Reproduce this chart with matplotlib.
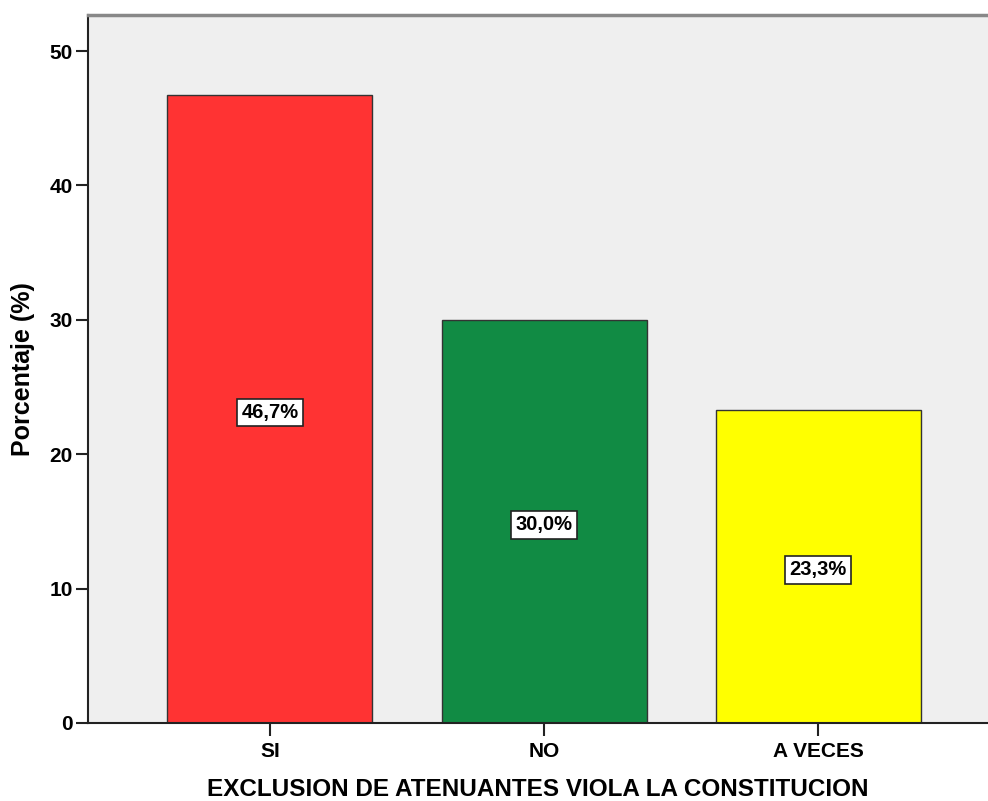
import matplotlib
matplotlib.use("Agg")
import matplotlib.pyplot as plt

categories = ["SI", "NO", "A VECES"]
values = [46.7, 30.0, 23.3]
labels = ["46,7%", "30,0%", "23,3%"]
colors = ["#FF3333", "#118B44", "#FFFF00"]
yticks = [0, 10, 20, 30, 40, 50]

plt.rcParams['font.family'] = ['Liberation Sans', 'DejaVu Sans']

fig = plt.figure(figsize=(9.88, 8.01), dpi=100)
ax = fig.add_axes([88/988, 1-723/801, 1-88/988, (723-15)/801])
ax.set_facecolor("#EFEFEF")

x = list(range(len(categories)))
ax.bar(x, values, width=0.748, color=colors, edgecolor="#333333", linewidth=1.0, zorder=2)
for xi, v, lab in zip(x, values, labels):
    ax.text(xi, v/2 - 0.25, lab, ha="center", va="center", fontsize=14.5, fontweight="bold",
            bbox=dict(boxstyle="square,pad=0.22", facecolor="white", edgecolor="#222222", linewidth=1.2),
            zorder=3)

ax.set_xlim(-0.664, 2.62)
ax.set_ylim(0, 52.68)
ax.set_yticks(yticks)
ax.set_xticks(x)
ax.set_xticklabels(categories)
ax.tick_params(axis="both", direction="out", length=9, width=1.5, color="#222222",
               labelsize=15)
for t in ax.get_xticklabels() + ax.get_yticklabels():
    t.set_fontweight("bold")
ax.tick_params(axis="x", pad=5)
ax.tick_params(axis="y", pad=2)

ax.spines["right"].set_visible(False)
ax.spines["top"].set_color("#888888")
ax.spines["top"].set_linewidth(2.5)
ax.spines["left"].set_color("#222222")
ax.spines["left"].set_linewidth(1.5)
ax.spines["bottom"].set_color("#222222")
ax.spines["bottom"].set_linewidth(1.5)

ax.set_xlabel("EXCLUSION DE ATENUANTES VIOLA LA CONSTITUCION", fontsize=17.5, fontweight="bold", labelpad=12)
ax.set_ylabel("Porcentaje (%)", fontsize=18, fontweight="bold", labelpad=10)

fig.savefig("out.png", dpi=100)
